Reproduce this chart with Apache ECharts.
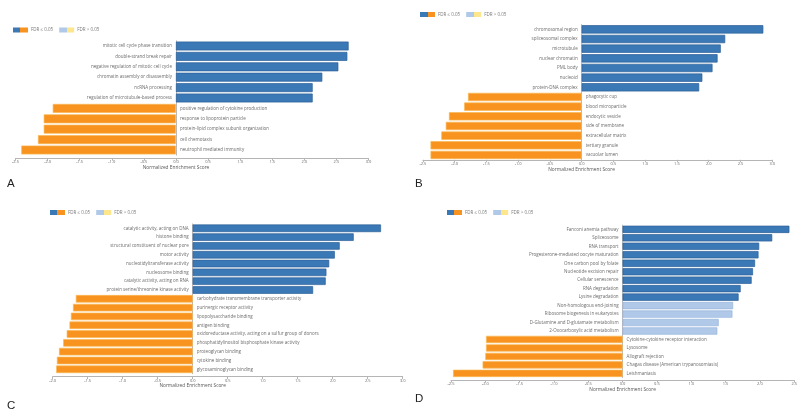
<!DOCTYPE html>
<html>
<head>
<meta charset="utf-8">
<script src="https://cdn.jsdelivr.net/npm/echarts@6/dist/echarts.min.js"></script>
<style>
html,body{margin:0;padding:0;background:#fff;}
#chart{width:800px;height:415px;}
</style>
</head>
<body>
<div id="chart"></div>
<script>
// ---- Panel A (GO biological process) ----
const catsA = ["mitotic cell cycle phase transition","double-strand break repair","negative regulation of mitotic cell cycle","chromatin assembly or disassembly","ncRNA processing","regulation of microtubule-based process","positive regulation of cytokine production","response to lipoprotein particle","protein-lipid complex subunit organization","cell chemotaxis","neutrophil mediated immunity"];
const nesA = [2.69, 2.67, 2.53, 2.28, 2.13, 2.13, -1.92, -2.06, -2.06, -2.15, -2.41];
const sigA = [1,1,1,1,1,1,1,1,1,1,1];

// ---- Panel B (GO cellular component) ----
const catsB = ["chromosomal region","spliceosomal complex","microtubule","nuclear chromatin","PML body","nucleoid","protein-DNA complex","phagocytic cup","blood microparticle","endocytic vesicle","side of membrane","extracellular matrix","tertiary granule","vacuolar lumen"];
const nesB = [2.86, 2.26, 2.19, 2.14, 2.06, 1.90, 1.85, -1.79, -1.85, -2.09, -2.14, -2.21, -2.38, -2.38];
const sigB = [1,1,1,1,1,1,1,1,1,1,1,1,1,1];

// ---- Panel C (GO molecular function) ----
const catsC = ["catalytic activity, acting on DNA","histone binding","structural constituent of nuclear pore","motor activity","nucleotidyltransferase activity","nucleosome binding","catalytic activity, acting on RNA","protein serine/threonine kinase activity","carbohydrate transmembrane transporter activity","purinergic receptor activity","lipopolysaccharide binding","antigen binding","oxidoreductase activity, acting on a sulfur group of donors","phosphatidylinositol bisphosphate kinase activity","proteoglycan binding","cytokine binding","glycosaminoglycan binding"];
const nesC = [2.69, 2.30, 2.10, 2.03, 1.95, 1.91, 1.90, 1.72, -1.67, -1.71, -1.74, -1.76, -1.80, -1.85, -1.91, -1.94, -1.95];
const sigC = [1,1,1,1,1,1,1,1,1,1,1,1,1,1,1,1,1];

// ---- Panel D (KEGG) ----
const catsD = ["Fanconi anemia pathway","Spliceosome","RNA transport","Progesterone-mediated oocyte maturation","One carbon pool by folate","Nucleotide excision repair","Cellular senescence","RNA degradation","Lysine degradation","Non-homologous end-joining","Ribosome biogenesis in eukaryotes","D-Glutamine and D-glutamate metabolism","2-Oxocarboxylic acid metabolism","Cytokine-cytokine receptor interaction","Lysosome","Allograft rejection","Chagas disease (American trypanosomiasis)","Leishmaniasis"];
const nesD = [2.43, 2.18, 1.99, 1.98, 1.93, 1.90, 1.88, 1.72, 1.69, 1.61, 1.60, 1.40, 1.38, -1.99, -1.99, -2.00, -2.04, -2.47];
const sigD = [1,1,1,1,1,1,1,1,1,0,0,0,0,1,1,1,1,1];

// axis ranges
const rangeA = [-2.5, 3.0], rangeB = [-2.5, 3.0], rangeC = [-2.0, 3.0], rangeD = [-2.5, 2.5];
const tickStep = 0.5;
const letters = ["A","B","C","D"];

const BLUE = '#3b78b6', ORANGE = '#f7931e', LBLUE = '#b1c9e8', LYELLOW = '#fde68c';
const BLUE_B = '#2c6098', ORANGE_B = '#f9b856', LBLUE_B = '#97b4dc';
const SIG = 'FDR \u2264 0.05', NSIG = 'FDR > 0.05';

const panels = [
  {cats: catsA, nes: nesA, sig: sigA, range: rangeA, grid:{left:15.5, top:40.8, width:353, height:114.4}, off:3, legend:{left:8, top:22.5}, namePad:32, letter:{x:7, y:189}},
  {cats: catsB, nes: nesB, sig: sigB, range: rangeB, grid:{left:422.9, top:24.5, width:349.3, height:135.3}, off:0, legend:{left:415, top:7}, namePad:32, letter:{x:415, y:189}},
  {cats: catsC, nes: nesC, sig: sigC, range: rangeC, grid:{left:52.7, top:223.9, width:350, height:149.8}, off:3, legend:{left:45, top:205}, namePad:70, letter:{x:7, y:411}},
  {cats: catsD, nes: nesD, sig: sigD, range: rangeD, grid:{left:451, top:225.1, width:350, height:152.5}, off:2.5, legend:{left:442, top:205}, namePad:0, letter:{x:415, y:404}}
];

function grad(c1, c2){
  return new echarts.graphic.LinearGradient(0,0,1,0,[
    {offset:0,color:c1},{offset:0.5,color:c1},{offset:0.5,color:c2},{offset:1,color:c2}]);
}

const option = {
  animation:false,
  backgroundColor:'#fff',
  grid:[], xAxis:[], yAxis:[], series:[], legend:[], graphic:[]
};

panels.forEach((p, k) => {
  option.grid.push(Object.assign({containLabel:false}, p.grid));
  option.xAxis.push({
    type:'value', gridIndex:k, min:p.range[0], max:p.range[1], interval:tickStep,
    offset:p.off,
    name:'Normalized Enrichment Score', nameLocation:'middle', nameGap:6,
    nameTextStyle:{fontSize:4.8, color:'#555', padding:[0, p.namePad, 0, 0], fontFamily:'Open Sans'},
    axisLine:{show:true, lineStyle:{color:'#b5b5b5', width:1}},
    axisTick:{show:true, length:2.5, lineStyle:{color:'#b5b5b5'}},
    axisLabel:{fontSize:4, color:'#666', margin:2, formatter:v=>v.toFixed(1), fontFamily:'Open Sans'},
    splitLine:{show:false}
  });
  option.yAxis.push({
    type:'category', gridIndex:k, data:p.cats, inverse:true,
    axisLine:{show:true, onZero:true, lineStyle:{color:'#a8a8a8', width:0.8}},
    axisTick:{show:false}, axisLabel:{show:false}, splitLine:{show:false}
  });
  const sigData = p.nes.map((v,i)=> p.sig[i] ? {value:v, itemStyle:{
      color: v>=0 ? BLUE : ORANGE, borderColor: v>=0 ? BLUE_B : ORANGE_B}} : '-');
  const nsData = p.nes.map((v,i)=> !p.sig[i] ? {value:v, itemStyle:{
      color: v>=0 ? LBLUE : LYELLOW, borderColor: v>=0 ? LBLUE_B : ORANGE_B}} : '-');
  option.series.push({
    type:'bar', name:SIG, xAxisIndex:k, yAxisIndex:k, data:sigData,
    barCategoryGap:'14%', barGap:'-100%', itemStyle:{borderWidth:0.7}, silent:true
  });
  option.series.push({
    type:'bar', name:NSIG, xAxisIndex:k, yAxisIndex:k, data:nsData,
    barCategoryGap:'14%', barGap:'-100%', itemStyle:{borderWidth:0.7}, silent:true
  });
  option.series.push({
    type:'scatter', xAxisIndex:k, yAxisIndex:k, symbolSize:1, silent:true,
    itemStyle:{color:'rgba(0,0,0,0)'},
    data:p.cats.map((c,i)=>({value:[0,c], label:{position: p.nes[i]>=0 ? 'left':'right'}})),
    label:{show:true, distance:3.5, fontSize:4.5, color:'#444', fontFamily:'Open Sans', formatter: q => q.value[1]},
    z:5
  });
  option.legend.push({
    left:p.legend.left, top:p.legend.top, orient:'horizontal',
    itemWidth:15, itemHeight:5, itemGap:6, icon:'rect', selectedMode:false,
    textStyle:{fontSize:4.5, color:'#777', padding:[0,0,0,-2], fontFamily:'Open Sans'},
    data:[{name:SIG, itemStyle:{color:grad(BLUE, ORANGE)}}, {name:NSIG, itemStyle:{color:grad(LBLUE, LYELLOW)}}]
  });
  option.graphic.push({
    type:'text', left:p.letter.x, top:p.letter.y - 11,
    style:{text:letters[k], fontSize:11.5, fill:'#222', fontFamily:'Liberation Sans'}
  });
});

const chart = echarts.init(document.getElementById('chart'), null, {renderer:'canvas'});
chart.setOption(option);
</script>
</body>
</html>
